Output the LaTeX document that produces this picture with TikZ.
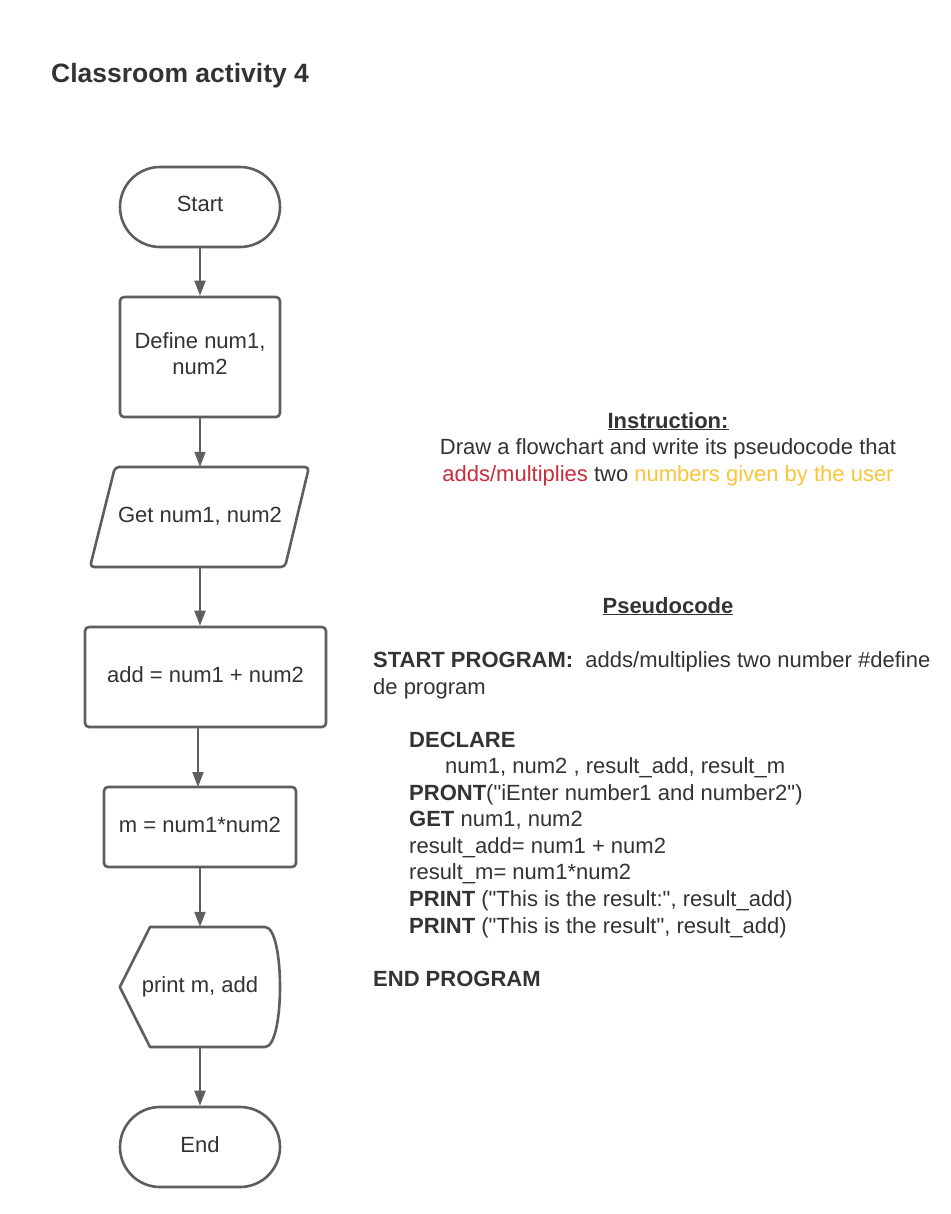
\documentclass[tikz,border=0pt]{standalone}
\usepackage{fontspec}
\setmainfont{Liberation Sans}
\newfontfamily\rawfont{Liberation Sans}
\usetikzlibrary{arrows.meta}
\definecolor{stroke}{HTML}{5E5E5E}
\definecolor{txt}{HTML}{333333}
\definecolor{lred}{HTML}{C92D39}
\definecolor{lyellow}{HTML}{FCC438}
\newcommand{\dq}{{\rawfont"}}
\begin{document}
\begin{tikzpicture}[x=1pt,y=-1pt,
  shapeline/.style={draw=stroke, line width=2.6pt, line join=round},
  box/.style={shapeline, rounded corners=4pt, text=txt, font=\fontsize{22}{27}\selectfont, align=center, inner sep=0pt, text height=16pt, text depth=6pt},
  term/.style={box, rounded corners=40pt, minimum width=160pt, minimum height=80pt},
  bare/.style={text=txt, font=\fontsize{22}{27}\selectfont, align=center, inner sep=0pt, text height=16pt, text depth=6pt},
  flow/.style={draw=stroke, line width=2pt, -{Triangle[length=15pt,width=11pt]}},
  code/.style={text=txt, font=\fontsize{22}{27}\selectfont, inner sep=0pt, anchor=base west},
  ctr/.style={text=txt, font=\fontsize{22}{27}\selectfont, inner sep=0pt, anchor=base}]
\useasboundingbox[fill=white] (0,0) rectangle (950,1214);

% title
\node[text=txt, font=\fontsize{26.5}{32}\selectfont\bfseries, inner sep=0pt, anchor=base west] (title) at (51,83) {Classroom activity 4};

% flowchart
\node[term] (start) at (200,207) {Start};
\node[shapeline, rounded corners=4pt, minimum width=160pt, minimum height=120pt,
      label={[text=txt, font=\fontsize{22}{27}\selectfont, align=center, inner sep=0pt, yshift=3pt]center:Define num1,\\[-1pt]num2}] (define) at (200,357) {};
\node[bare, minimum width=195pt, minimum height=100pt] (get) at (200,517) {Get num1, num2};
\draw[shapeline, rounded corners=4pt] (115,467) -- (309,467) -- (285,567) -- (90,567) -- cycle;
\node[box, minimum width=241pt, minimum height=100pt] (add) at (205.5,677) {add = num1 + num2};
\node[box, minimum width=192pt, minimum height=80pt] (mul) at (200,827) {m = num1*num2};
\node[bare, minimum width=160pt, minimum height=120pt] (print) at (200,987) {print m, add};
\draw[shapeline] (print.west) -- (150,927) -- (265,927) .. controls (285,927) and (285,1047) .. (265,1047) -- (150,1047) -- cycle;
\node[term] (end) at (200,1147) {End};

\draw[flow] (start) -- (define);
\draw[flow] (define) -- (define.south |- get.north);
\draw[flow] (get.south) -- (get.south |- add.north);
\draw[flow] (198,727) coordinate (a1) -- (198,787) coordinate (a2);
\draw[flow] (mul) -- (print);
\draw[flow] (print) -- (end);

% instruction
\node[ctr, font=\fontsize{22}{27}\selectfont\bfseries] (instr) at (668,428) {\underline{Instruction:}};
\node[ctr] (instr2) at (668,454) {Draw a flowchart and write its pseudocode that};
\node[ctr] (instr3) at (668,481) {\textcolor{lred}{adds/multiplies} two \textcolor{lyellow}{numbers given by the user}};

% pseudocode
\node[ctr, font=\fontsize{22}{27}\selectfont\bfseries] (pshead) at (668,613) {\underline{Pseudocode}};
\node[code] (l1) at (373,667) {\textbf{START PROGRAM:}\ \ adds/multiplies two number \#define};
\node[code] (l2) at (373,694) {de program};
\node[code] (l3) at (409,747) {\textbf{DECLARE}};
\node[code] (l4) at (445,773) {num1, num2 , result\_add, result\_m};
\node[code] (l5) at (409,800) {\textbf{PRONT}(\dq iEnter number1 and number2\dq)};
\node[code] (l6) at (409,826) {\textbf{GET} num1, num2};
\node[code] (l7) at (409,853) {result\_add= num1 + num2};
\node[code] (l8) at (409,879) {result\_m= num1*num2};
\node[code] (l9) at (409,906) {\textbf{PRINT} (\dq This is the result:\dq, result\_add)};
\node[code] (l10) at (409,933) {\textbf{PRINT} (\dq This is the result\dq, result\_add)};
\node[code] (l11) at (373,986) {\textbf{END PROGRAM}};
\end{tikzpicture}
\end{document}
